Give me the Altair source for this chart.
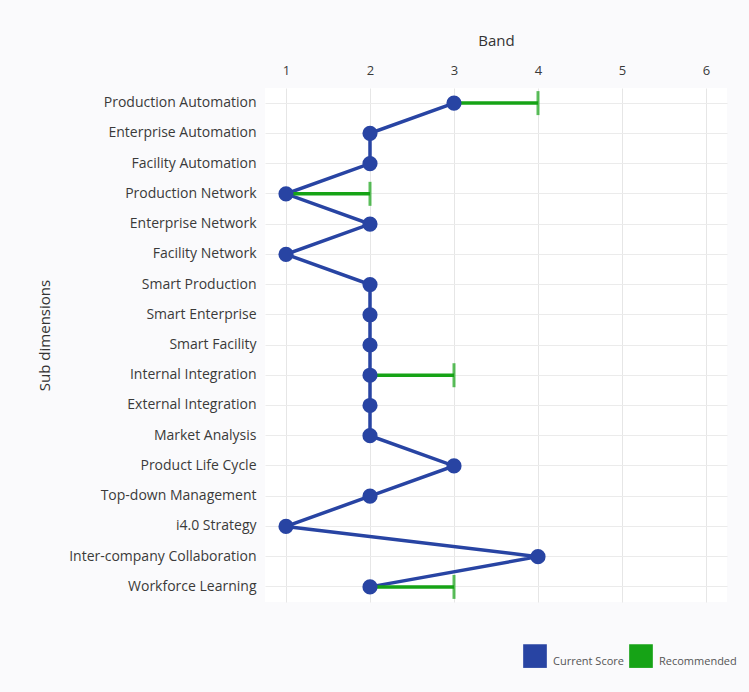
import altair as alt
import pandas as pd

categories = [
    "Production Automation", "Enterprise Automation", "Facility Automation",
    "Production Network", "Enterprise Network", "Facility Network",
    "Smart Production", "Smart Enterprise", "Smart Facility",
    "Internal Integration", "External Integration", "Market Analysis",
    "Product Life Cycle", "Top-down Management", "i4.0 Strategy",
    "Inter-company Collaboration", "Workforce Learning",
]
current = [3, 2, 2, 1, 2, 1, 2, 2, 2, 2, 2, 2, 3, 2, 1, 4, 2]
recommended = [4, None, None, 2, None, None, None, None, None, 3, None, None, None, None, None, None, 3]
x_ticks = [1, 2, 3, 4, 5, 6]
series_names = ["Current Score", "Recommended"]
series_colors = ["#2844a3", "#16a316"]

df = pd.DataFrame({
    "Sub": categories,
    "Current": current,
    "Rec": recommended,
    "idx": list(range(len(categories))),
})
df["Series"] = "Current Score"
rec_df = df.dropna(subset=["Rec"]).copy()
rec_df["Series"] = "Recommended"

FONT = "Open Sans"

color_scale = alt.Scale(domain=series_names, range=series_colors)
legend = alt.Legend(orient="none", legendX=258, legendY=556,
                    direction="horizontal", title=None,
                    symbolType="square", symbolSize=560,
                    symbolStrokeWidth=0, symbolOpacity=1,
                    labelFontSize=11, labelColor="#555",
                    labelFont=FONT, labelOffset=6, labelBaseline="top",
                    columnPadding=5, values=series_names)

yenc = alt.Y("Sub:N", sort=categories, title="Sub dimensions",
             axis=alt.Axis(labelPadding=9, ticks=False, domain=False, grid=True,
                           gridColor="#ebebeb", labelFontSize=14, labelColor="#3a3a3a",
                           labelFont=FONT, titleFont=FONT, titleFontSize=15,
                           titleFontWeight="normal", titleColor="#333",
                           titleX=-213, titleY=247, labelLimit=300))
xscale = alt.Scale(domain=[0.75, 6.25], nice=False, zero=False)
xaxis = alt.Axis(orient="top", values=x_ticks, grid=True, gridColor="#e6e6e6",
                 domain=False, ticks=False, labelPadding=11, labelFontSize=13,
                 labelColor="#3a3a3a", labelFont=FONT, titleFont=FONT, titleFontSize=15,
                 titleFontWeight="normal", titleColor="#333", titlePadding=16,
                 format="d")

base = alt.Chart(df)

line = base.mark_line(color="#2844a3", strokeWidth=3.5).encode(
    x=alt.X("Current:Q", scale=xscale, axis=xaxis, title="Band"),
    y=yenc,
    order=alt.Order("idx:Q"),
)

rule = alt.Chart(rec_df).mark_rule(strokeWidth=3.5).encode(
    x=alt.X("Current:Q", scale=xscale),
    x2="Rec:Q",
    y=alt.Y("Sub:N", sort=categories),
    color=alt.Color("Series:N", scale=color_scale, legend=legend),
)

tick = alt.Chart(rec_df).mark_tick(orient="vertical", size=24, thickness=3).encode(
    x=alt.X("Rec:Q", scale=xscale),
    y=alt.Y("Sub:N", sort=categories),
    color=alt.Color("Series:N", scale=color_scale, legend=legend),
)

points = base.mark_point(filled=True, size=230, opacity=1).encode(
    x=alt.X("Current:Q", scale=xscale),
    y=alt.Y("Sub:N", sort=categories),
    color=alt.Color("Series:N", scale=color_scale, legend=legend),
)

chart = alt.layer(line, rule, tick, points).properties(
    width=462, height=514,
    background="#fafafc",
    padding={"left": 265, "top": 88, "right": 22, "bottom": 90},
    autosize=alt.AutoSizeParams(type="none"),
).configure_view(stroke=None, fill="#ffffff")

chart.save("out.html", embed_options={"renderer": "svg", "actions": False})
